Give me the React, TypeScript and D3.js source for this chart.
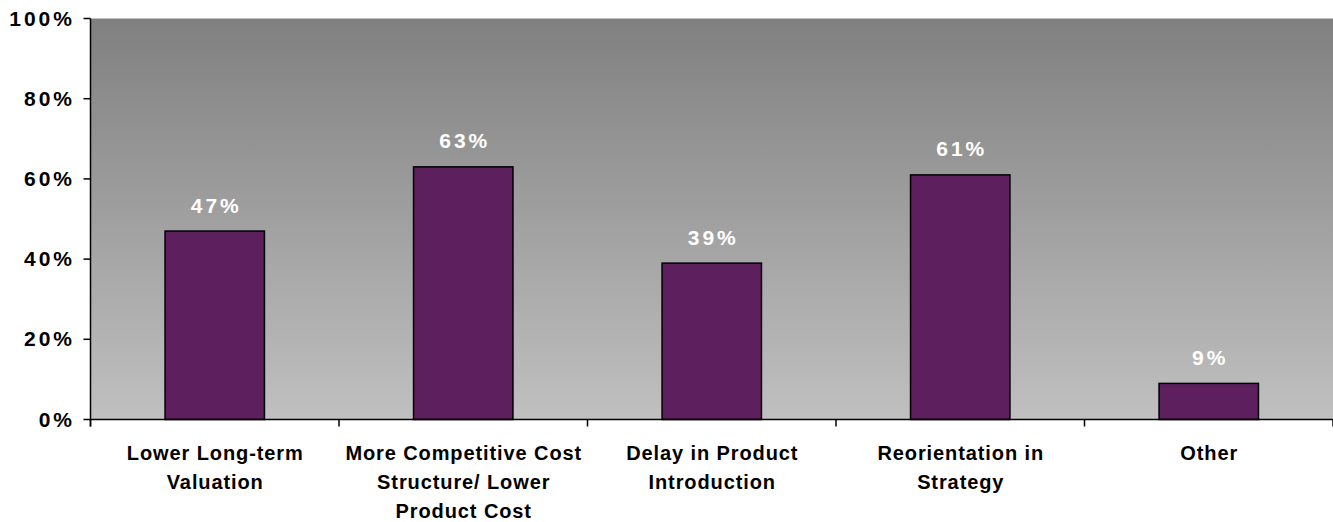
import React from "react";
import * as d3 from "d3";

const categories: string[][] = [
  ["Lower Long-term", "Valuation"],
  ["More Competitive Cost", "Structure/ Lower", "Product Cost"],
  ["Delay in Product", "Introduction"],
  ["Reorientation in", "Strategy"],
  ["Other"],
];
const values: number[] = [47, 63, 39, 61, 9];
const yTicks: number[] = [0, 20, 40, 60, 80, 100];

const W = 1333;
const H = 522;
const plot = { left: 90.5, right: 1333, top: 18.5, bottom: 419.5 };

export default function App() {
  const keys = categories.map((_, i) => String(i));
  const x = d3
    .scaleBand<string>()
    .domain(keys)
    .range([plot.left, plot.right])
    .paddingInner(0.6)
    .paddingOuter(0.3);
  const y = d3.scaleLinear().domain([0, 100]).range([plot.bottom, plot.top]);
  const step = (plot.right - plot.left) / categories.length;
  const font = "Arial, 'Liberation Sans', sans-serif";

  return (
    <svg
      width={W}
      height={H}
      style={{ position: "absolute", left: 0, top: 0, display: "block" }}
    >
      <defs>
        <linearGradient id="bg" x1="0" y1="0" x2="0" y2="1">
          <stop offset="0" stopColor="#808080" />
          <stop offset="1" stopColor="#c0c0c0" />
        </linearGradient>
      </defs>
      <rect
        x={plot.left}
        y={plot.top}
        width={plot.right - plot.left}
        height={plot.bottom - plot.top}
        fill="url(#bg)"
      />
      {values.map((v, i) => (
        <rect
          key={i}
          x={x(String(i))}
          y={y(v)}
          width={x.bandwidth()}
          height={y(0) - y(v)}
          fill="#5E1F5E"
          stroke="#000"
          strokeWidth={1.5}
        />
      ))}
      {values.map((v, i) => (
        <text
          key={"l" + i}
          x={(x(String(i)) as number) + x.bandwidth() / 2 + 1.5}
          y={y(v) - 18.5}
          textAnchor="middle"
          fill="#fff"
          fontFamily={font}
          fontWeight="bold"
          fontSize={21}
          letterSpacing={3}
        >
          {v}%
        </text>
      ))}
      {/* axes */}
      <line x1={plot.left} x2={plot.left} y1={plot.top} y2={plot.bottom + 7} stroke="#000" strokeWidth={1.5} />
      <line x1={plot.left} x2={plot.right} y1={plot.bottom} y2={plot.bottom} stroke="#000" strokeWidth={1.5} />
      {yTicks.map((t) => (
        <g key={t}>
          <line x1={plot.left - 7} x2={plot.left} y1={y(t)} y2={y(t)} stroke="#000" strokeWidth={1.5} />
          <text
            x={75}
            y={y(t) + 7}
            textAnchor="end"
            fontFamily={font}
            fontWeight="bold"
            fontSize={21}
            letterSpacing={3}
            fill="#000"
          >
            {t}%
          </text>
        </g>
      ))}
      {d3.range(categories.length + 1).map((k) => (
        <line
          key={"t" + k}
          x1={plot.left + k * step}
          x2={plot.left + k * step}
          y1={plot.bottom}
          y2={plot.bottom + 7}
          stroke="#000"
          strokeWidth={1.5}
        />
      ))}
      {categories.map((lines, i) => (
        <text
          key={"c" + i}
          textAnchor="middle"
          fontFamily={font}
          fontWeight="bold"
          fontSize={20}
          letterSpacing={0.9}
          fill="#000"
        >
          {lines.map((ln, j) => (
            <tspan key={j} x={(x(String(i)) as number) + x.bandwidth() / 2 + 0.5} y={459.5 + j * 29}>
              {ln}
            </tspan>
          ))}
        </text>
      ))}
    </svg>
  );
}
